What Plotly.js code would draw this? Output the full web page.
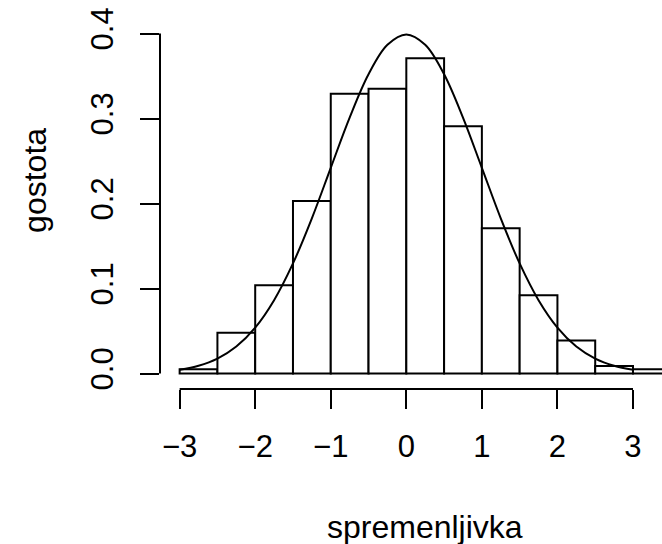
<!DOCTYPE html>
<html>
<head>
<meta charset="utf-8">
<script src="https://cdn.plot.ly/plotly-3.0.1.min.js"></script>
<style>html,body{margin:0;padding:0;background:#fff;}</style>
</head>
<body>
<div id="chart" style="width:662px;height:544px;"></div>
<script>
// Histogram bins (left edges, width 0.5) and densities
var binLeft = [-3, -2.5, -2, -1.5, -1, -0.5, 0, 0.5, 1, 1.5, 2, 2.5, 3];
var binWidth = 0.5;
var density = [0.005, 0.048, 0.104, 0.203, 0.329, 0.335, 0.371, 0.291, 0.171, 0.092, 0.039, 0.009, 0.005];

// Density curve points
var curveX = [-3, -2.75, -2.5, -2.25, -2, -1.75, -1.5, -1.25, -1, -0.75, -0.5, -0.25, 0,
              0.25, 0.5, 0.75, 1, 1.25, 1.5, 1.75, 2, 2.25, 2.5, 2.75, 3];
var curveY = [0.0044, 0.0091, 0.0175, 0.0317, 0.054, 0.0863, 0.1295, 0.1826, 0.242, 0.3011, 0.3521, 0.3867, 0.3989,
              0.3867, 0.3521, 0.3011, 0.242, 0.1826, 0.1295, 0.0863, 0.054, 0.0317, 0.0175, 0.0091, 0.0044];

var xTicks = [-3, -2, -1, 0, 1, 2, 3];
var xTickText = ['\u22123', '\u22122', '\u22121', '0', '1', '2', '3'];
var yTicks = [0, 0.1, 0.2, 0.3, 0.4];
var yTickText = ['0.0', '0.1', '0.2', '0.3', '0.4'];

var xTitle = 'spremenljivka';
var yTitle = 'gostota';

var mids = binLeft.map(function (b) { return b + binWidth / 2; });

var font = 'Liberation Sans, Arial, Helvetica, sans-serif';

var traces = [
  {
    type: 'bar',
    x: mids,
    y: density,
    width: binWidth,
    marker: { color: '#ffffff', line: { color: '#000000', width: 2 } },
    hoverinfo: 'skip'
  },
  {
    type: 'scatter',
    mode: 'lines',
    x: curveX,
    y: curveY,
    line: { color: '#000000', width: 2, shape: 'spline', smoothing: 1 },
    hoverinfo: 'skip'
  }
];

var layout = {
  width: 662,
  height: 544,
  margin: { l: 160, r: 0, t: 20, b: 155 },
  paper_bgcolor: '#ffffff',
  plot_bgcolor: '#ffffff',
  showlegend: false,
  bargap: 0,
  font: { family: font, size: 30, color: '#000000' },
  xaxis: {
    range: [-3.26, 3.384],
    tickvals: xTicks,
    ticktext: xTickText,
    ticks: 'outside',
    ticklen: 19,
    tickwidth: 2,
    tickcolor: '#000000',
    showline: false,
    showgrid: false,
    zeroline: false,
    ticklabelstandoff: 11,
    tickfont: { family: font, size: 31, color: '#000000' }
  },
  yaxis: {
    range: [-0.0182, 0.4159],
    tickvals: yTicks,
    ticktext: yTickText,
    tickangle: -90,
    ticks: 'outside',
    ticklen: 19,
    tickwidth: 2,
    tickcolor: '#000000',
    showline: false,
    showgrid: false,
    zeroline: false,
    ticklabelstandoff: 15,
    tickfont: { family: font, size: 31, color: '#000000' }
  },
  shapes: [
    { type: 'line', xref: 'x', yref: 'paper', x0: xTicks[0], x1: xTicks[xTicks.length - 1], y0: 0, y1: 0,
      line: { color: '#000000', width: 2 } },
    { type: 'line', xref: 'paper', yref: 'y', x0: 0, x1: 0, y0: yTicks[0], y1: yTicks[yTicks.length - 1],
      line: { color: '#000000', width: 2 } }
  ],
  annotations: [
    { text: xTitle, xref: 'paper', yref: 'paper', x: 0.527, y: -0.375, xanchor: 'center', yanchor: 'middle',
      showarrow: false, font: { family: font, size: 32, color: '#000000' } },
    { text: yTitle, xref: 'paper', yref: 'paper', x: -0.249, y: 0.564, xanchor: 'center', yanchor: 'middle',
      textangle: -90, showarrow: false, font: { family: font, size: 32, color: '#000000' } }
  ]
};

Plotly.newPlot('chart', traces, layout, { displayModeBar: false, staticPlot: true });
</script>
</body>
</html>
